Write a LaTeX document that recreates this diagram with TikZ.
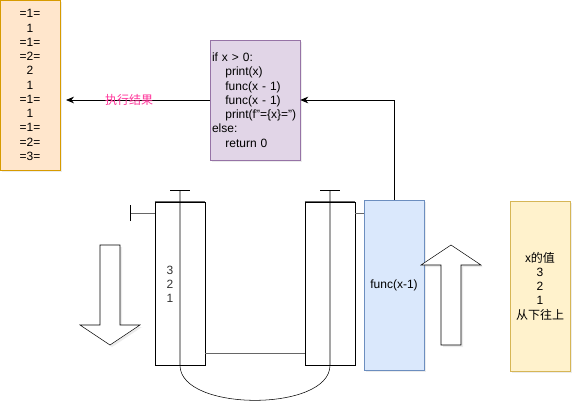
\documentclass[tikz,border=0pt]{standalone}
\usepackage{fontspec}
\setmainfont{Liberation Sans}
\newfontfamily\cjk{Noto Sans CJK SC}
\usetikzlibrary{arrows.meta,shadows}
\definecolor{resfill}{HTML}{FFE6CC}
\definecolor{resline}{HTML}{D79B00}
\definecolor{codefill}{HTML}{E1D5E7}
\definecolor{codeline}{HTML}{9673A6}
\definecolor{funcfill}{HTML}{DAE8FC}
\definecolor{funcline}{HTML}{6C8EBF}
\definecolor{valfill}{HTML}{FFF2CC}
\definecolor{valline}{HTML}{D6B656}
\definecolor{labpink}{HTML}{FF3399}
\definecolor{edgegray}{HTML}{666666}

\begin{document}
\begin{tikzpicture}[x=0.75pt, y=-0.75pt,
    every node/.style={font=\fontsize{9}{10.7}\selectfont, inner sep=0pt},
    boxshadow/.style={drop shadow={opacity=0.15, shadow xshift=1.5pt, shadow yshift=-1.5pt}},
    stackbox/.style={draw, fill=white, minimum width=37.5pt, minimum height=122.25pt},
    flow/.style={-{Stealth[length=6pt,width=5pt]}, semithick}]
		\useasboundingbox (0,0) rectangle (582,412);

		% boxes
		\node[draw=resline, fill=resfill, boxshadow, minimum width=45pt, minimum height=127.5pt, align=center] (res) at (30,85)
			{=1=\\1\\=1=\\=2=\\2\\1\\=1=\\1\\=1=\\=2=\\=3=};
		\node[draw=codeline, fill=codefill, boxshadow, minimum width=67.5pt, minimum height=90pt, text width=64.5pt, align=left] (code) at (255,100)
			{if x > 0:\\\hspace*{10pt}print(x)\\\hspace*{10pt}func(x - 1)\\\hspace*{10pt}func(x - 1)\\\hspace*{10pt}print(f"=\{x\}=")\\else:\\\hspace*{10pt}return 0};
		\node[stackbox] (stackL) at (180,283.5) {};
		\node[stackbox] (stackR) at (330,283.5) {};
		\node[draw=funcline, fill=funcfill, boxshadow, minimum width=45pt, minimum height=127.5pt] (func) at (394,285) {func(x-1)};
		\node[draw=valline, fill=valfill, boxshadow, minimum width=45pt, minimum height=127.5pt, align=center] (val) at (540,286)
			{\cjk x的值\\3\\2\\1\\\cjk 从下往上};
		\node[align=center, text=black!80] (nums) at (170,284.5) {3\\2\\1};

		% stack tops in gray
		\draw[edgegray, thick] (stackL.north west) -- (stackL.north east);
		\draw[edgegray, thick] (stackR.north west) -- (stackR.north east);

		% block arrows
		\draw[boxshadow, fill=white] (100,245) -- (120,245) -- (120,325) -- (140,325) -- (110,345) -- (80,325) -- (100,325) -- cycle;
		\draw[boxshadow, fill=white] (441,345) -- (461,345) -- (461,265) -- (481,265) -- (451,245) -- (421,265) -- (441,265) -- cycle;

		% connectors
		\coordinate (resin) at (66,100);
		\coordinate (tick) at (130,213);
		\coordinate (topL) at (180,190);
		\coordinate (topR) at (330,190);
		\draw[flow] (code.west) -- node[pos=0.56, text=labpink] (lab) {\cjk 执行结果} (resin);
		\draw[flow] (func.north) |- (code.east);
		\draw[edgegray, -{Bar[width=12pt, color=black]}] (stackL.west |- tick) -- (tick);
		\draw[edgegray] (stackR.east |- tick) -- (func.west |- tick);
		\draw[edgegray] (stackL.east |- 0,353) -- (stackR.west |- 0,353);
		\draw[{Bar[width=15pt]}-{Bar[width=15pt]}] (topL) -- (topL |- stackL.south) .. controls (180,412) and (330,412) .. (topR |- stackR.south) -- (topR);
	\end{tikzpicture}
\end{document}
